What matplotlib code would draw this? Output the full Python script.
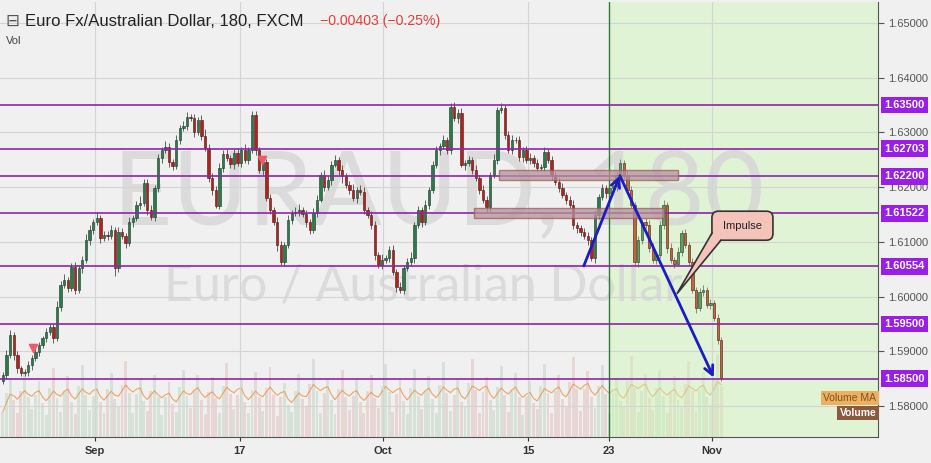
import matplotlib
matplotlib.use("Agg")
import matplotlib.pyplot as plt
import matplotlib.patches as mpatches
import numpy as np
import pandas as pd

# --- Data: EUR/AUD candles (closes), wick sizes in pips, volume ---
first_open = 1.5845
closes = [
    1.5857, 1.5893, 1.5930, 1.5893, 1.5869, 1.5860, 1.5862, 1.5875, 1.5888, 1.5899,
    1.5911, 1.5924, 1.5935, 1.5944, 1.5924, 1.5981, 1.6021, 1.6030, 1.6016, 1.6054,
    1.6012, 1.6052, 1.6067, 1.6103, 1.6122, 1.6136, 1.6144, 1.6107, 1.6113, 1.6111,
    1.6122, 1.6052, 1.6118, 1.6111, 1.6098, 1.6136, 1.6144, 1.6167, 1.6171, 1.6208,
    1.6158, 1.6145, 1.6198, 1.6253, 1.6268, 1.6273, 1.6246, 1.6239, 1.6286, 1.6308,
    1.6312, 1.6328, 1.6326, 1.6301, 1.6323, 1.6294, 1.6272, 1.6217, 1.6195, 1.6166,
    1.6235, 1.6261, 1.6253, 1.6242, 1.6262, 1.6244, 1.6268, 1.6250, 1.6268, 1.6332,
    1.6268, 1.6231, 1.6246, 1.6180, 1.6158, 1.6136, 1.6094, 1.6063, 1.6094, 1.6140,
    1.6153, 1.6155, 1.6158, 1.6151, 1.6136, 1.6122, 1.6153, 1.6177, 1.6222, 1.6200,
    1.6213, 1.6241, 1.6250, 1.6231, 1.6220, 1.6204, 1.6195, 1.6180, 1.6195, 1.6191,
    1.6158, 1.6149, 1.6131, 1.6076, 1.6058, 1.6067, 1.6071, 1.6085, 1.6045, 1.6018,
    1.6012, 1.6052, 1.6063, 1.6071, 1.6131, 1.6158, 1.6136, 1.6167, 1.6195, 1.6241,
    1.6268, 1.6275, 1.6286, 1.6268, 1.6347, 1.6326, 1.6336, 1.6241, 1.6244, 1.6250,
    1.6231, 1.6217, 1.6195, 1.6177, 1.6164, 1.6222, 1.6250, 1.6341, 1.6345, 1.6295,
    1.6268, 1.6286, 1.6286, 1.6255, 1.6268, 1.6250, 1.6253, 1.6244, 1.6235, 1.6237,
    1.6264, 1.6250, 1.6222, 1.6209, 1.6198, 1.6186, 1.6177, 1.6167, 1.6131, 1.6125,
    1.6118, 1.6111, 1.6103, 1.6071, 1.6149, 1.6182, 1.6198, 1.6189, 1.6198, 1.6202,
    1.6222, 1.6244, 1.6222, 1.6195, 1.6167, 1.6063, 1.6103, 1.6136, 1.6131, 1.6089,
    1.6067, 1.6076, 1.6131, 1.6167, 1.6089, 1.6067, 1.6060, 1.6081, 1.6116, 1.6094,
    1.6063, 1.6012, 1.5979, 1.6008, 1.6012, 1.5985, 1.5988, 1.5961, 1.5921, 1.5851,
]
wick_hi = [
    6, 9, 8, 5, 7, 4, 6, 8, 5, 7, 6, 4, 8, 5, 6, 10, 7, 12, 5, 8,
    9, 6, 7, 11, 8, 6, 10, 5, 7, 6, 8, 5, 9, 7, 6, 10, 5, 8, 12, 6,
    7, 9, 5, 8, 6, 11, 7, 5, 9, 6, 8, 10, 6, 7, 5, 9, 12, 6, 8, 7,
    10, 6, 8, 5, 7, 9, 6, 11, 5, 8, 7, 6, 9, 5, 8, 6, 10, 7, 5, 9,
    6, 8, 11, 5, 7, 6, 9, 8, 5, 10, 7, 6, 8, 5, 9, 6, 7, 10, 5, 8,
    9, 5, 7, 8, 6, 10, 5, 7, 9, 6, 8, 5, 7, 11, 6, 8, 5, 9, 6, 7,
    8, 6, 10, 5, 7, 9, 6, 8, 5, 7, 6, 9, 5, 8, 7, 6, 10, 5, 8, 6,
    7, 9, 5, 8, 6, 7, 10, 5, 8, 6, 9, 5, 7, 6, 8, 10, 5, 7, 9, 6,
    6, 8, 7, 5, 9, 6, 8, 5, 7, 10, 6, 8, 5, 9, 7, 6, 8, 5, 7, 9,
    8, 5, 7, 9, 6, 8, 5, 10, 6, 7, 5, 8, 6, 7, 9, 5, 8, 6, 7, 5,
]
wick_lo = [
    5, 7, 6, 9, 8, 6, 5, 7, 9, 6, 8, 5, 7, 6, 9, 5, 7, 6, 8, 5,
    7, 6, 9, 5, 8, 7, 6, 10, 5, 8, 6, 15, 7, 5, 9, 6, 8, 5, 7, 6,
    9, 5, 7, 6, 8, 5, 9, 7, 6, 8, 5, 7, 6, 9, 5, 8, 6, 7, 10, 5,
    6, 8, 5, 7, 9, 6, 8, 5, 7, 6, 9, 5, 8, 6, 7, 5, 10, 6, 8, 5,
    7, 6, 8, 5, 9, 7, 6, 8, 5, 7, 6, 9, 5, 8, 12, 6, 7, 5, 9, 6,
    8, 5, 7, 9, 6, 8, 5, 7, 6, 10, 5, 8, 6, 7, 9, 5, 8, 6, 7, 5,
    6, 9, 5, 8, 7, 6, 8, 5, 9, 6, 7, 5, 8, 6, 9, 7, 5, 8, 6, 7,
    5, 8, 6, 7, 9, 5, 7, 8, 6, 5, 8, 6, 9, 5, 7, 6, 8, 5, 7, 9,
    7, 5, 8, 6, 9, 7, 5, 8, 6, 7, 9, 5, 7, 8, 6, 5, 9, 7, 6, 8,
    6, 8, 5, 7, 9, 6, 8, 5, 7, 6, 8, 5, 9, 6, 7, 5, 8, 6, 7, 5,
]
volumes = [
    30, 52, 70, 44, 28, 55, 78, 48, 33, 50, 66, 40, 26, 58, 82, 46, 30, 54, 72, 42,
    27, 60, 85, 50, 32, 49, 68, 41, 29, 57, 76, 45, 35, 62, 90, 52, 28, 51, 70, 43,
    31, 55, 74, 47, 26, 48, 65, 39, 30, 59, 80, 49, 34, 56, 73, 44, 27, 53, 71, 46,
    29, 61, 88, 51, 33, 50, 69, 42, 28, 56, 77, 47, 31, 58, 83, 50, 25, 47, 64, 38,
    30, 54, 75, 45, 36, 63, 92, 55, 29, 52, 70, 44, 27, 57, 79, 48, 32, 49, 67, 41,
    28, 55, 74, 46, 34, 60, 86, 53, 30, 51, 69, 43, 27, 58, 81, 49, 33, 54, 72, 45,
    29, 62, 89, 52, 31, 50, 68, 42, 35, 64, 93, 56, 28, 53, 71, 44, 32, 59, 84, 50,
    30, 56, 76, 47, 26, 49, 66, 40, 33, 61, 87, 52, 29, 55, 73, 45, 36, 65, 95, 57,
    31, 57, 78, 48, 34, 60, 85, 51, 28, 52, 70, 43, 37, 66, 96, 58, 30, 55, 75, 46,
    32, 58, 80, 49, 29, 53, 72, 44, 35, 63, 90, 54, 31, 56, 77, 47, 38, 68, 98, 60,
]

# date ticks (bar index positions)
tick_pos = [25.5, 65.6, 105.3, 145.5, 167.9, 196.4]
tick_labels = ["Sep", "17", "Oct", "15", "23", "Nov"]

# horizontal levels drawn on the chart
levels = [1.63500, 1.62703, 1.62200, 1.61522, 1.60554, 1.59500, 1.58500]

# drawings: zones (x0, x1, y0, y1), arrows, alert markers, callout
zones = [(137.4, 187.0, 1.6213, 1.6231), (130.5, 183.1, 1.6144, 1.6162)]
arrows = [((160.9, 1.6056), (170.9, 1.6221)), ((170.9, 1.6221), (196.9, 1.5852))]
alert_x = [8.3, 71.7]
alert_y = [1.5906, 1.6250]
shade_start = 167.9
callout_box = (196.4, 1.6103, 16.9, 0.0053)   # x, y, w, h
callout_tip = (186.7, 1.6005)
callout_base = [(196.4, 1.6116), (198.9, 1.6103)]

# --- Colors ---
BG = "#f0f0f0"
UP, DOWN = "#2b7a4b", "#b3211f"
UP_SHADED, DOWN_SHADED = "#5e9f62", "#c0673a"
LEVEL = "#8e24aa"
LABEL_BG = "#9b1ee8"
ARROW = "#1c1cc0"

opens = [first_open] + closes[:-1]
highs = [max(o, c) + h * 1e-4 for o, c, h in zip(opens, closes, wick_hi)]
lows = [min(o, c) - l * 1e-4 for o, c, l in zip(opens, closes, wick_lo)]
x = np.arange(len(closes))
o = np.array(opens)
c = np.array(closes)
up = c >= o
shaded = x > shade_start
vol_ma = pd.Series(volumes).rolling(5, min_periods=1).mean()

# --- Figure ---
fig = plt.figure(figsize=(9.31, 4.63), dpi=100)
fig.patch.set_facecolor(BG)
ax = fig.add_axes([0, 26 / 463, 878 / 931, 435 / 463])
ax2 = ax.twinx()
ax.set_zorder(2)
ax2.set_zorder(1)
ax.patch.set_visible(False)
ax2.patch.set_facecolor(BG)

# volume (under everything)
vol_colors = np.where(up, "#4f9a5a", "#c0504d")
ax2.bar(x, volumes, width=0.8, color=vol_colors, alpha=0.16, linewidth=0)
ax2.plot(x, vol_ma, color="#ef8a3a", lw=0.8, alpha=0.75)
ax2.set_ylim(0, max(volumes) / 0.19)
ax2.set_yticks([])
for s in ax2.spines.values():
    s.set_visible(False)

# shaded future region
ax.axvspan(shade_start, 260, facecolor="#cdf7b2", alpha=0.45, lw=0, zorder=0.2)

# watermark
ax.text(0.5, 0.556, "EURAUD, 180", transform=ax.transAxes, ha="center", va="center",
        fontsize=74, color="#d6d6d6", alpha=0.8, family="Lato", zorder=0.5)
ax.text(0.482, 0.345, "Euro / Australian Dollar", transform=ax.transAxes, ha="center",
        va="center", fontsize=36, color="#d6d6d6", alpha=0.8, family="Lato", zorder=0.5)

# candles
body_up = np.where(shaded, UP_SHADED, UP)
body_dn = np.where(shaded, DOWN_SHADED, DOWN)
ax.vlines(x, lows, highs, color=np.where(shaded, "#7a7a6a", "#4a4a4a"), lw=0.6, zorder=3)
ax.bar(x[up], (c - o)[up], bottom=o[up], width=0.65, color=body_up[up],
       edgecolor="#1c3a28", linewidth=0.4, zorder=3)
ax.bar(x[~up], (c - o)[~up], bottom=o[~up], width=0.65, color=body_dn[~up],
       edgecolor="#4a1a10", linewidth=0.4, zorder=3)
ax.scatter(alert_x, alert_y, marker="v", s=35, color="#ef5a6a", zorder=3.5)

ax.axvline(shade_start, color="#2e7d32", lw=1, zorder=5)

# levels
for lv in levels:
    ax.axhline(lv, color=LEVEL, lw=1.2, zorder=5)
    ax.text(1.0075, lv, f"{lv:.5f}", transform=ax.get_yaxis_transform(), ha="left",
            va="center", fontsize=8, fontweight="bold", color="white",
            family="Liberation Sans", zorder=10,
            bbox=dict(boxstyle="square,pad=0.3", fc=LABEL_BG, ec="none"))

# zones
for x0, x1, y0, y1 in zones:
    ax.add_patch(mpatches.Rectangle((x0, y0), x1 - x0, y1 - y0, facecolor="#b5939b",
                                    edgecolor="#a05a5a", lw=1, alpha=0.75, zorder=6))

# arrows
for start, end in arrows:
    ax.annotate("", xy=end, xytext=start,
                arrowprops=dict(arrowstyle="->", color=ARROW, lw=2, mutation_scale=16,
                                shrinkA=0, shrinkB=0), zorder=7)

# callout
bx, by, bw, bh = callout_box
ax.add_patch(mpatches.FancyBboxPatch((bx, by), bw, bh,
                                     boxstyle="round,pad=0,rounding_size=1.8",
                                     mutation_aspect=3.61 / 5471,
                                     facecolor="#f4c4bb", edgecolor="#333333",
                                     lw=1.2, zorder=8))
(b1x, b1y), (b2x, b2y) = callout_base
ax.add_patch(mpatches.Polygon([(b1x + 0.3, b1y), callout_tip, (b2x, b2y + 0.0002),
                               (b2x, b1y)], closed=True, facecolor="#f4c4bb",
                              edgecolor="none", zorder=9))
ax.plot([b1x, callout_tip[0], b2x], [b1y, callout_tip[1], b2y], color="#333333",
        lw=1.2, zorder=9, solid_joinstyle="miter")
ax.text(bx + bw / 2, by + bh / 2, "Impulse", ha="center", va="center", fontsize=8,
        color="#222222", family="Liberation Sans", zorder=10)

# axes
ax.set_xlim(-0.8, 242.4)
ax.set_ylim(1.57433, 1.65384)
ax.yaxis.tick_right()
ax.set_yticks(np.arange(1.58, 1.6501, 0.01))
ax.set_yticklabels([f"{v:.5f}" for v in np.arange(1.58, 1.6501, 0.01)])
ax.set_xticks(tick_pos)
ax.set_xticklabels(tick_labels)
ax.tick_params(axis="y", labelsize=8, colors="#555555", length=4, pad=3)
ax.tick_params(axis="x", labelsize=8, colors="#333333", length=3)
for lab in ax.get_xticklabels():
    lab.set_fontweight("bold")
    lab.set_family("Liberation Sans")
for lab in ax.get_yticklabels():
    lab.set_family("Liberation Sans")
ax.grid(True, color="#d4d4d4", lw=0.8)
ax.set_axisbelow(True)
for side in ["top", "left"]:
    ax.spines[side].set_visible(False)
ax.spines["right"].set_color("#555555")
ax.spines["bottom"].set_color("#555555")

# legend tags
ax.text(0.998, 0.09, "Volume MA", transform=ax.transAxes, ha="right", va="center",
        fontsize=7.5, color="#7a5420", family="Liberation Sans", zorder=10,
        bbox=dict(boxstyle="square,pad=0.22", fc="#eeb060", ec="none"))
ax.text(0.998, 0.055, "Volume", transform=ax.transAxes, ha="right", va="center",
        fontsize=7.5, color="white", fontweight="bold", family="Liberation Sans", zorder=10,
        bbox=dict(boxstyle="square,pad=0.22", fc="#8b5a3c", ec="none"))

# title
fig.text(5 / 931, 1 - 21 / 463, "\u229f", fontsize=12, color="#555555",
         family="DejaVu Sans", va="center")
fig.text(25 / 931, 1 - 21 / 463, "Euro Fx/Australian Dollar, 180, FXCM", fontsize=12,
         color="#222222", family="Liberation Sans", va="center")
fig.text(320 / 931, 1 - 21 / 463, "\u22120.00403 (\u22120.25%)", fontsize=10.2,
         color="#e0403a", family="Liberation Sans", va="center")
fig.text(6 / 931, 1 - 41 / 463, "Vol", fontsize=8, color="#444444",
         family="Liberation Sans", va="center")

fig.savefig("out.png", dpi=100, facecolor=BG)
